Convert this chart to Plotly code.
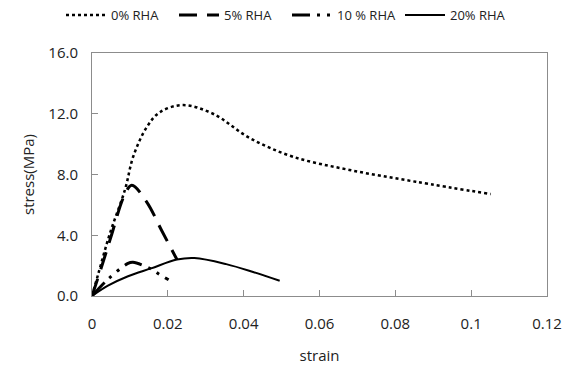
import plotly.graph_objects as go

# 0% RHA
s0 = [0, 0.0017, 0.0047, 0.0087, 0.0109, 0.0144, 0.0179, 0.024, 0.0319, 0.0416, 0.053, 0.0679, 0.0854, 0.1052]
t0 = [0, 1.5, 4.1, 7.0, 9.2, 11.1, 12.1, 12.57, 12.0, 10.4, 9.17, 8.3, 7.52, 6.71]
# 5% RHA
s5 = [0, 0.0025, 0.005, 0.0085, 0.0105, 0.0144, 0.0183, 0.0224]
t5 = [0, 1.9, 3.9, 6.6, 7.3, 6.2, 4.35, 2.4]
# 10% RHA
s10 = [0, 0.0042, 0.0095, 0.0108, 0.0156, 0.0176, 0.0202]
t10 = [0, 1.1, 2.15, 2.22, 1.78, 1.45, 1.07]
# 20% RHA
s20 = [0, 0.0042, 0.0095, 0.0156, 0.0224, 0.027, 0.0354, 0.0425, 0.0495]
t20 = [0, 0.68, 1.3, 1.82, 2.4, 2.5, 2.1, 1.58, 1.0]

names = ["0% RHA", "5% RHA", "10 % RHA", "20% RHA"]

FONT = "Open Sans, sans-serif"

fig = go.Figure()
fig.add_trace(go.Scatter(x=s0, y=t0, name=names[0], mode="lines", line_shape="spline",
                         line=dict(color="black", width=2.5, dash="dot")))
fig.add_trace(go.Scatter(x=s5, y=t5, name=names[1], mode="lines", line_shape="spline",
                         line=dict(color="black", width=3, dash="18px,10px")))
fig.add_trace(go.Scatter(x=s10, y=t10, name=names[2], mode="lines", line_shape="spline",
                         line=dict(color="black", width=3, dash="18px,7px,3px,7px,3px,7px")))
fig.add_trace(go.Scatter(x=s20, y=t20, name=names[3], mode="lines", line_shape="spline",
                         line=dict(color="black", width=2)))

axis_common = dict(showline=True, linecolor="#8c8c8c", linewidth=1, mirror=True,
                   ticks="inside", ticklen=6, tickcolor="#8c8c8c", showgrid=False,
                   zeroline=False, tickfont=dict(family=FONT, size=15, color="#222"))

fig.update_xaxes(range=[0, 0.12], dtick=0.02, tick0=0,
                 title=dict(text="strain", font=dict(family=FONT, size=15, color="#222"), standoff=18),
                 ticklabelstandoff=14, **axis_common)
fig.update_yaxes(range=[0, 16], dtick=4, tick0=0, tickformat=".1f",
                 title=dict(text="stress(MPa)", font=dict(family=FONT, size=15, color="#222"), standoff=10),
                 ticklabelstandoff=10, **axis_common)

fig.update_layout(
    width=574, height=381,
    margin=dict(l=92, r=25, t=53, b=85),
    paper_bgcolor="white", plot_bgcolor="white",
    showlegend=True,
    legend=dict(orientation="h", x=0.5, xanchor="center", xref="container",
                y=1.0, yanchor="top", yref="container",
                font=dict(family=FONT, size=13, color="#222"),
                entrywidth=58, entrywidthmode="pixels",
                itemwidth=40, tracegroupgap=0, bgcolor="rgba(0,0,0,0)"),
)

fig.write_html("out.html")
